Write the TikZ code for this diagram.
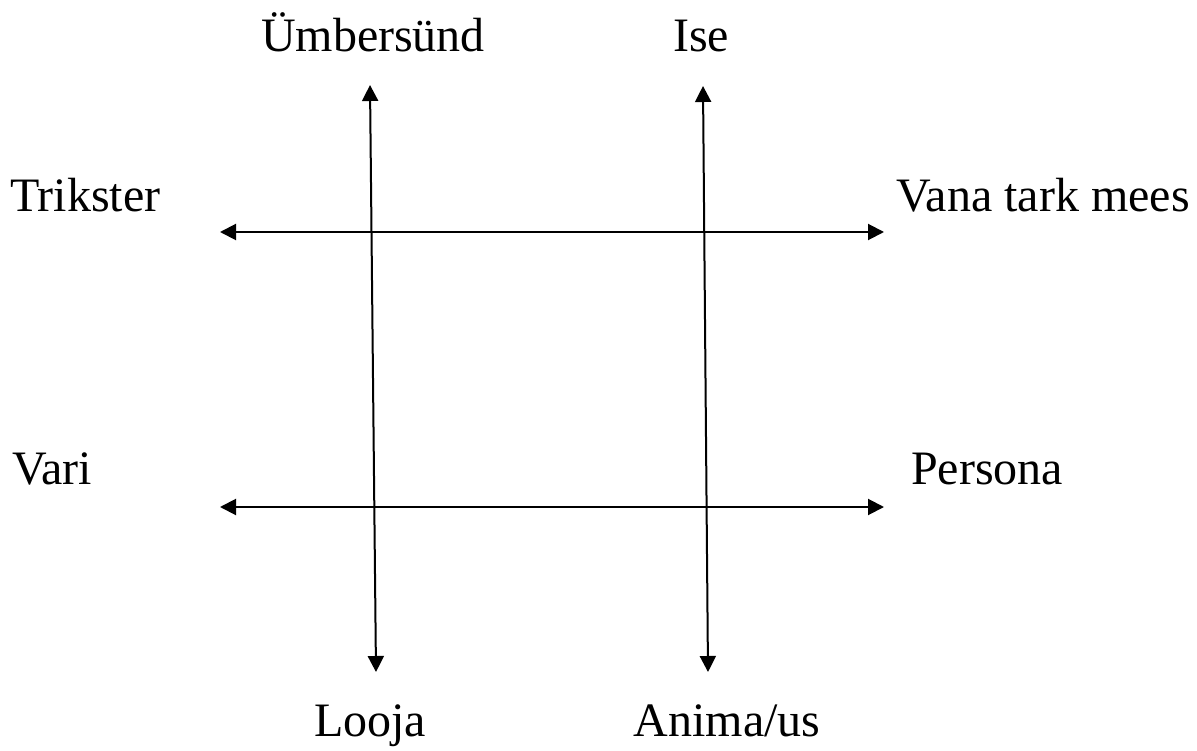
\documentclass[tikz,border=0pt]{standalone}
\usepackage{fontspec}
\setmainfont{Liberation Serif}
\usetikzlibrary{arrows.meta}
\tikzset{
  lbl/.style={anchor=base, inner sep=0pt, font=\fontsize{48}{58}\selectfont},
  axis/.style={line width=2pt, {Triangle[length=16pt,width=16pt]}-{Triangle[length=16pt,width=16pt]}}
}
\begin{document}
\begin{tikzpicture}[x=1pt,y=-1pt]
\useasboundingbox (0,0) rectangle (1197,751);
% labels
\node[lbl] (umb) at (373,52) {Ümbersünd};
\node[lbl] (ise) at (701,52) {Ise};
\node[lbl,anchor=base west] (trik) at (10,212) {Trikster};
\node[lbl,anchor=base east] (vana) at (1190,212) {Vana tark mees};
\node[lbl,anchor=base west] (vari) at (12,484) {Vari};
\node[lbl,anchor=base west] (pers) at (911,484) {Persona};
\node[lbl] (looja) at (370,736) {Looja};
\node[lbl] (anima) at (727,736) {Anima/us};
% arrow ends
\coordinate (v1t) at (370,85);
\coordinate (v1b) at (376,672);
\coordinate (v2t) at (703,86);
\coordinate (v2b) at (708,672);
\coordinate (h1l) at (220,232);
\coordinate (h1r) at (884,232);
\coordinate (h2l) at (220,507);
\coordinate (h2r) at (884,507);
\draw[axis] (v1t) -- (v1b);
\draw[axis] (v2t) -- (v2b);
\draw[axis] (h1l) -- (h1r);
\draw[axis] (h2l) -- (h2r);
\end{tikzpicture}
\end{document}
